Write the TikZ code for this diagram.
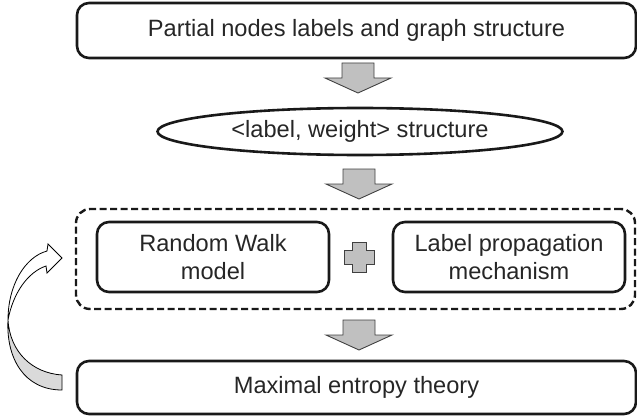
\documentclass[tikz,border=0pt]{standalone}
\usepackage{fontspec}
\setmainfont{Liberation Sans}
\usetikzlibrary{shapes.geometric}

\definecolor{arrowgray}{RGB}{192,192,192}
\definecolor{twistgray}{RGB}{218,218,218}

\begin{document}
\begin{tikzpicture}[x=1pt,y=-1pt,
	box/.style={draw=black!90, line width=2.6pt, rounded corners=12pt, text=black!85, align=center, inner sep=0pt, font=\fontsize{23.6}{28}\selectfont},
	ellip/.style={draw=black!90, line width=2.6pt, ellipse, text=black!85, inner sep=0pt, font=\fontsize{23.6}{28}\selectfont},
	dashbox/.style={draw=black!90, line width=2.4pt, rounded corners=14pt, dash pattern=on 7pt off 3.5pt},
	arrowfill/.style={draw=black!75, line width=0.9pt, fill=arrowgray},
	downarrow/.pic={\draw[arrowfill] (-16,0) -- (16,0) -- (16,15) -- (33,15) -- (0,30) -- (-33,15) -- (-16,15) -- cycle;}]
				\useasboundingbox (0,0) rectangle (637,417);
				\node[box, minimum width=559pt, minimum height=55pt] (A) at (356.5,30.5) {Partial nodes labels and graph structure};
				\node[ellip, minimum width=405pt, minimum height=47pt] (B) at (360,131.5) {<label, weight> structure};
				\node[dashbox, minimum width=559pt, minimum height=100pt] (C) at (355.5,259) {};
				\node[box, minimum width=232pt, minimum height=70pt] (D) at (213,257) {Random Walk\\model};
				\node[box, minimum width=232pt, minimum height=70pt] (F) at (509,257) {Label propagation\\mechanism};
				\node[box, minimum width=559pt, minimum height=53pt] (G) at (356.5,387.5) {Maximal entropy theory};
				% block arrows
				\pic at (358,63) {downarrow};
				\pic at (359,169) {downarrow};
				\pic at (359,320) {downarrow};
				% plus sign
				\draw[arrowfill] (352,242) -- (366,242) -- (366,250) -- (374,250) -- (374,264) -- (366,264) -- (366,272) -- (352,272) -- (352,264) -- (344,264) -- (344,250) -- (352,250) -- cycle;
				% curved arrow back to the dashed box
				\coordinate (T) at (8,320);
				\draw[black, line width=0.8pt, fill=twistgray] (T) .. controls (10,352) and (32,373) .. (62,375) -- (62,390) .. controls (24,390) and (6,358) .. (T);
				\draw[black, line width=0.8pt, fill=white] (T) .. controls (8,285) and (25,257) .. (47,251) -- (48,244) -- (62,258) -- (47,273) -- (46,266) .. controls (28,272) and (13,293) .. (T);
			\end{tikzpicture}
\end{document}
